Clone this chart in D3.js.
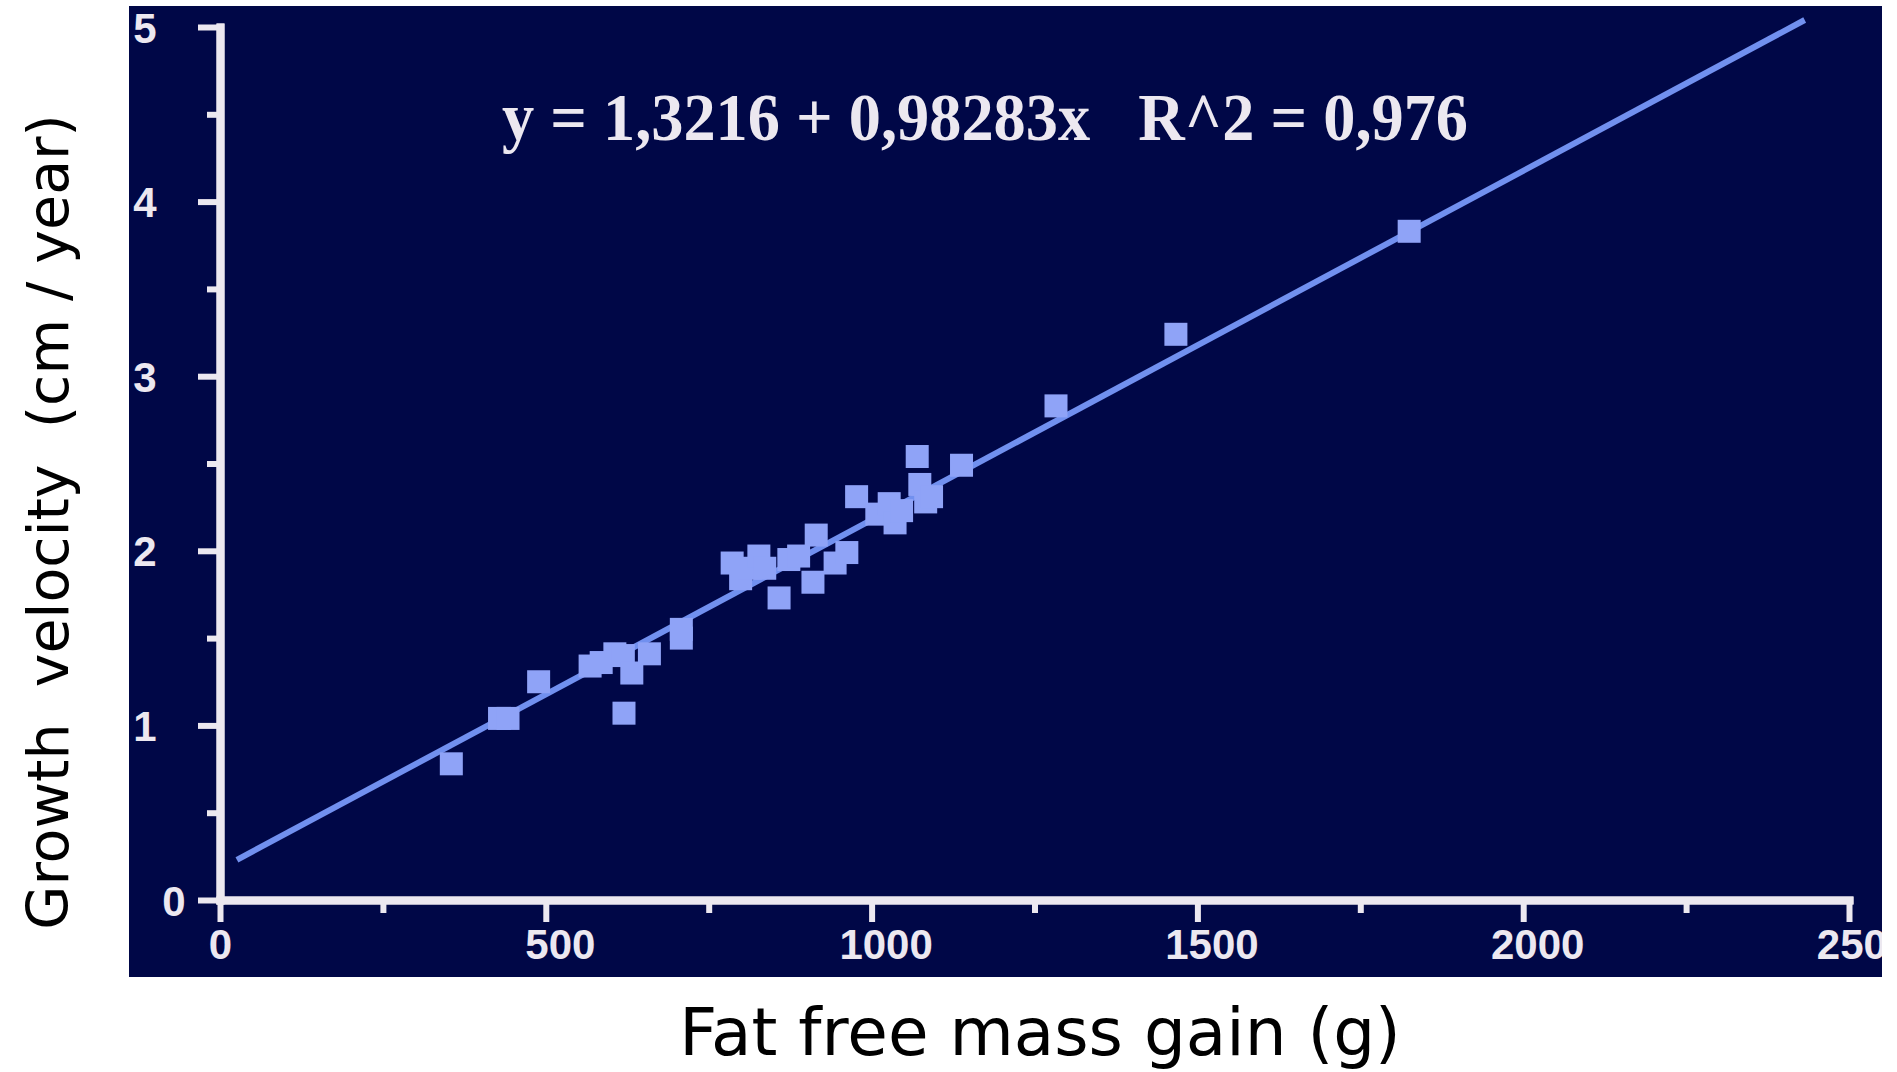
<!DOCTYPE html>
<html>
<head>
<meta charset="utf-8">
<script src="https://cdn.jsdelivr.net/npm/d3@7"></script>
<style>
  html, body { margin: 0; padding: 0; background: #ffffff; }
  svg { display: block; }
</style>
</head>
<body>
<svg id="chart" width="1897" height="1072"></svg>
<script>
// ---- data ----
const fatFreeMassGain = [355, 429, 442, 489, 568, 585, 606, 619, 632, 620, 659, 708, 708,
  786, 799, 814, 827, 836, 858, 873, 888, 910, 915, 944, 962, 977, 1008, 1027, 1036, 1046,
  1070, 1074, 1083, 1092, 1138, 1283, 1467, 1825];
const growthVelocity = [0.78, 1.04, 1.04, 1.25, 1.34, 1.36, 1.41, 1.40, 1.30, 1.07, 1.41, 1.50, 1.55,
  1.93, 1.84, 1.90, 1.97, 1.90, 1.73, 1.95, 1.97, 1.82, 2.09, 1.93, 1.99, 2.31, 2.21, 2.27, 2.16, 2.23,
  2.54, 2.38, 2.28, 2.31, 2.49, 2.83, 3.24, 3.83];
const fitLineX = [26, 2432];
const fitLineY = [0.23, 5.04];
const xTickValues = [0, 500, 1000, 1500, 2000, 2500];
const xTickLabels = ["0", "500", "1000", "1500", "2000", "2500"];
const xMinorTicks = [250, 750, 1250, 1750, 2250];
const yTickValues = [0, 1, 2, 3, 4, 5];
const yTickLabels = ["0", "1", "2", "3", "4", "5"];
const yMinorTicks = [0.5, 1.5, 2.5, 3.5, 4.5];
const equationText = "y = 1,3216 + 0,98283x   R^2 = 0,976";
const xTitle = "Fat free mass gain (g)";
const yTitle = "Growth  velocity  (cm / year)";

// ---- layout ----
const svg = d3.select("#chart");
const panel = { x: 129, y: 6, w: 1753, h: 971 };
const bg = "#000747";
const ink = "#ece8f0";
const lineColor = "#7190ef";
const pointColor = "#8fa3f7";

const x = d3.scaleLinear().domain([0, 2500]).range([220, 1849]);
const y = d3.scaleLinear().domain([0, 5]).range([900, 27]);

svg.append("defs").append("clipPath").attr("id", "panelClip")
  .append("rect").attr("x", panel.x).attr("y", panel.y).attr("width", panel.w).attr("height", panel.h);

svg.append("rect").attr("x", panel.x).attr("y", panel.y)
  .attr("width", panel.w).attr("height", panel.h).attr("fill", bg);

const g = svg.append("g").attr("clip-path", "url(#panelClip)");

// minor ticks
const xMinor = d3.axisBottom(x).tickValues(xMinorTicks).tickSize(13).tickSizeOuter(0).tickFormat("");
const yMinor = d3.axisLeft(y).tickValues(yMinorTicks).tickSize(13).tickSizeOuter(0).tickFormat("");
const gxm = g.append("g").attr("transform", `translate(0,${y(0)})`).call(xMinor);
const gym = g.append("g").attr("transform", `translate(${x(0)},0)`).call(yMinor);

// major axes
const xAxis = d3.axisBottom(x).tickValues(xTickValues).tickSize(22).tickSizeOuter(0)
  .tickFormat((d, i) => xTickLabels[i]);
const yAxis = d3.axisLeft(y).tickValues(yTickValues).tickSize(22).tickSizeOuter(0)
  .tickFormat((d, i) => yTickLabels[i]);
const gx = g.append("g").attr("transform", `translate(0,${y(0)})`).call(xAxis);
const gy = g.append("g").attr("transform", `translate(${x(0)},0)`).call(yAxis);

[gxm, gym, gx, gy].forEach(a => {
  a.select(".domain").attr("stroke", ink).attr("stroke-width", 8).attr("stroke-linecap", "square");
  a.selectAll(".tick line").attr("stroke", ink).attr("stroke-width", 6);
});

gx.selectAll(".tick text")
  .attr("fill", ink)
  .attr("font-family", "Liberation Sans, Arial, sans-serif")
  .attr("font-weight", "bold")
  .attr("font-size", 42)
  .attr("dy", "0.82em")
  .attr("dx", d => d === 0 ? 0 : 14);

gy.selectAll(".tick text")
  .attr("fill", ink)
  .attr("font-family", "Liberation Sans, Arial, sans-serif")
  .attr("font-weight", "bold")
  .attr("font-size", 42)
  .attr("text-anchor", "middle")
  .attr("x", 145 - x(0))
  .attr("dy", "0.36em");
gy.selectAll(".tick text").filter(d => d === 0).attr("x", 174 - x(0));

// regression line
const lineGen = d3.line().x(d => x(d[0])).y(d => y(d[1]));
g.append("path")
  .datum(fitLineX.map((v, i) => [v, fitLineY[i]]))
  .attr("d", lineGen)
  .attr("fill", "none")
  .attr("stroke", lineColor)
  .attr("stroke-width", 6);

// points
const sz = 23;
g.append("g").selectAll("rect")
  .data(fatFreeMassGain.map((v, i) => [v, growthVelocity[i]]))
  .join("rect")
  .attr("x", d => x(d[0]) - sz / 2)
  .attr("y", d => y(d[1]) - sz / 2)
  .attr("width", sz)
  .attr("height", sz)
  .attr("fill", pointColor);

// equation
g.append("text")
  .attr("x", 502)
  .attr("y", 140)
  .attr("fill", ink)
  .attr("font-family", "Liberation Serif, Times New Roman, serif")
  .attr("font-weight", "bold")
  .attr("font-size", 68)
  .attr("textLength", 966)
  .attr("lengthAdjust", "spacingAndGlyphs")
  .style("white-space", "pre")
  .text(equationText);

// axis titles
svg.append("text")
  .attr("x", 1040)
  .attr("y", 1055)
  .attr("text-anchor", "middle")
  .attr("fill", "#000000")
  .attr("font-family", "DejaVu Sans, Verdana, sans-serif")
  .attr("font-size", 66)
  .text(xTitle);

svg.append("text")
  .attr("transform", "translate(68,522) rotate(-90)")
  .attr("text-anchor", "middle")
  .attr("fill", "#000000")
  .attr("font-family", "DejaVu Sans, Verdana, sans-serif")
  .attr("font-size", 57)
  .style("white-space", "pre")
  .text(yTitle);
</script>
</body>
</html>
